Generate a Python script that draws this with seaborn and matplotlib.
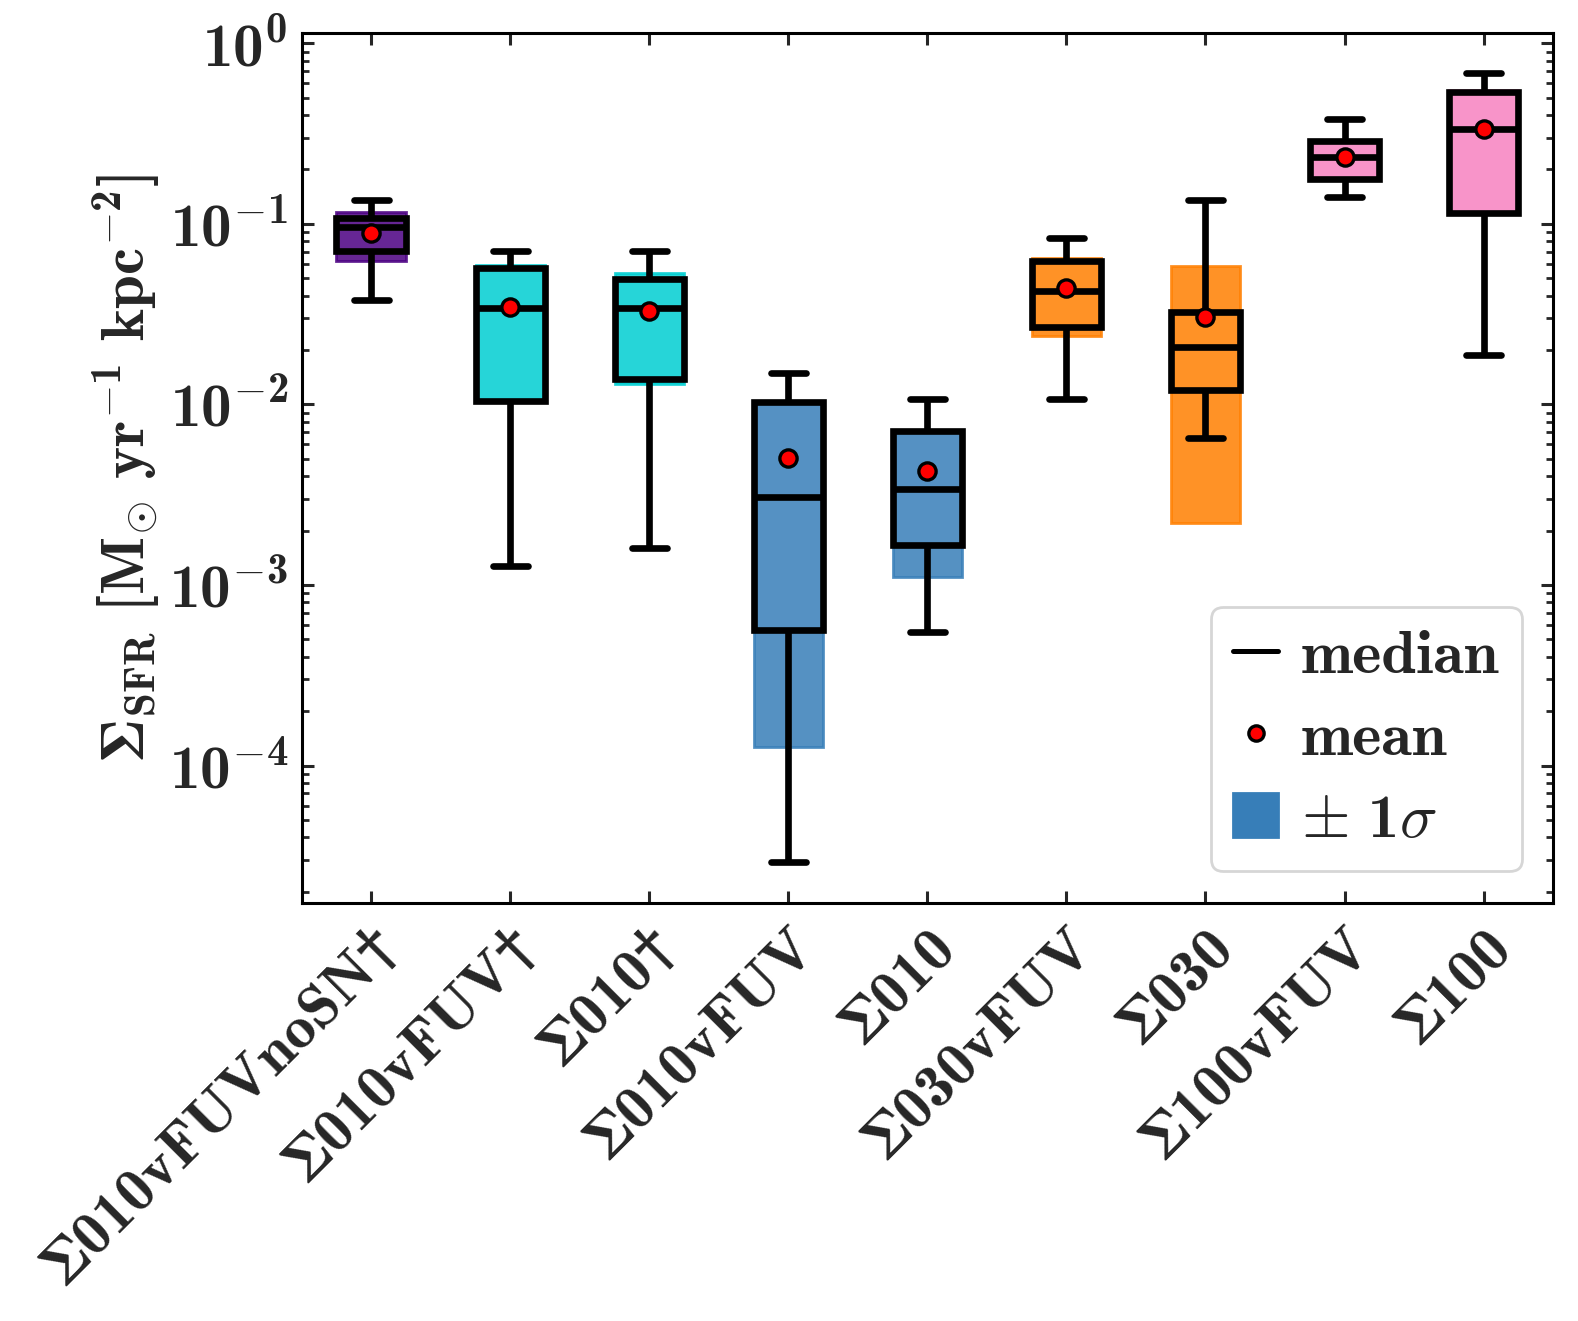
import numpy as np
import pandas as pd
import matplotlib
matplotlib.use("Agg")
import matplotlib.pyplot as plt
import seaborn as sns
from matplotlib.lines import Line2D
from matplotlib.patches import Patch
from matplotlib.ticker import LogLocator, FuncFormatter, NullFormatter

# Run names (x categories) and the box summaries.
# In the bundled cmb10 font the character U+00A7 holds the bold capital Sigma.
S = "\u00a7"
runs = ["S010vFUVnoSN+", "S010vFUV+", "S010+", "S010vFUV", "S010",
        "S030vFUV", "S030", "S100vFUV", "S100"]
run_labels = [S + "010vFUVnoSN\u2020", S + "010vFUV\u2020", S + "010\u2020",
              S + "010vFUV", S + "010", S + "030vFUV", S + "030", S + "100vFUV", S + "100"]
whisk_lo = [0.038, 0.00127, 0.0016, 2.92e-5, 0.000548, 0.01074, 0.0065, 0.1417, 0.01866]
q1 = [0.0703, 0.01038, 0.0138, 0.00056, 0.00167, 0.0270, 0.01205, 0.177, 0.1147]
median = [0.0966, 0.0341, 0.0341, 0.00307, 0.00341, 0.0427, 0.0209, 0.234, 0.336]
q3 = [0.1075, 0.0569, 0.0496, 0.0103, 0.00714, 0.0619, 0.0324, 0.289, 0.536]
whisk_hi = [0.136, 0.0711, 0.0703, 0.0149, 0.0107, 0.084, 0.136, 0.380, 0.688]
mean = [0.0895, 0.0345, 0.0331, 0.00504, 0.00429, 0.0444, 0.0303, 0.236, 0.335]
sig_lo = [0.0626, 0.0106, 0.0130, 0.000126, 0.00111, 0.0238, 0.0022, 0.178, 0.118]
sig_hi = [0.116, 0.059, 0.0537, 0.0102, 0.0071, 0.0646, 0.0581, 0.285, 0.55]

base_colors = ["indigo", "darkturquoise", "darkturquoise", "#377eb8", "#377eb8",
               "#ff7f00", "#ff7f00", "#f781bf", "#f781bf"]
ALPHA = 0.85
FS = 22

sns.set_theme(style="ticks", rc={
    "xtick.direction": "in", "ytick.direction": "in",
    "xtick.top": True, "ytick.right": True,
    "xtick.major.size": 4.2, "ytick.major.size": 4.2,
    "ytick.minor.size": 2.4, "ytick.minor.visible": True,
    "xtick.major.width": 1.1, "ytick.major.width": 1.1, "ytick.minor.width": 1.0,
    "axes.linewidth": 1.1, "axes.edgecolor": "black",
})
plt.rcParams["mathtext.fontset"] = "cm"
plt.rcParams["font.family"] = ["cmb10", "DejaVu Serif"]

# five points per run -> exact quartiles and min/max whiskers
df = pd.DataFrame({
    "run": np.repeat(runs, 5),
    "sfr": np.column_stack([whisk_lo, q1, median, q3, whisk_hi]).ravel(),
})

# box face = base colour at alpha 0.85 over white
faces = [tuple(ALPHA * np.array(matplotlib.colors.to_rgb(c)) + (1 - ALPHA)) for c in base_colors]

fig = plt.figure(figsize=(7.89, 6.605), dpi=200)
ax = fig.add_axes([0.1912, 0.3167, 0.7930, 0.6581])

sns.boxplot(data=df, x="run", y="sfr", hue="run", palette=dict(zip(runs, faces)),
            width=0.5, whis=(0, 100), linewidth=2.4, linecolor="black", fill=True,
            saturation=1, capwidths=0.25, showfliers=False, legend=False,
            log_scale=True, ax=ax)

# +/- 1 sigma bands behind the boxes
pos = np.arange(len(runs))
ax.bar(pos, np.array(sig_hi) - np.array(sig_lo), bottom=sig_lo, width=0.5,
       color=[matplotlib.colors.to_rgba(c, ALPHA) for c in base_colors],
       edgecolor=[matplotlib.colors.to_rgba(c, ALPHA) for c in base_colors],
       linewidth=1.0, zorder=1)

sns.stripplot(x=runs, y=mean, jitter=False, color="red", edgecolor="black",
              linewidth=1.2, size=6.2, zorder=5, ax=ax)


def exp_label(v, _):
    e = round(np.log10(v))
    if e < 0:
        return r"$\mathdefault{10}^{-\mathdefault{%d}}$" % (-e)
    return r"$\mathdefault{10^{%d}}$" % e


ax.set_yscale("log")
ax.set_ylim(1.74e-5, 1.136)
ax.set_xlim(-0.5, 8.5)
ax.yaxis.set_major_locator(LogLocator(base=10, numticks=12))
ax.yaxis.set_minor_locator(LogLocator(base=10, subs=np.arange(2, 10), numticks=12))
ax.yaxis.set_minor_formatter(NullFormatter())
ax.yaxis.set_major_formatter(FuncFormatter(exp_label))
ax.tick_params(axis="y", labelsize=FS, pad=5)
ax.tick_params(axis="x", pad=6)

ax.set_xticks(pos)
ax.set_xticklabels(run_labels, rotation=45, ha="right", rotation_mode="anchor",
                   fontsize=FS, fontweight="bold")
ax.set_xlabel("")
ax.set_ylabel("$\\mathdefault{" + S + "_{SFR}\\ [M}_{\\odot}\\mathdefault{\\ yr}^{-\\mathdefault{1}}"
              "\\mathdefault{\\ kpc}^{-\\mathdefault{2}}\\mathdefault{]}$",
              fontsize=FS, labelpad=2.5)

handles = [
    Line2D([], [], color="black", lw=1.8),
    Line2D([], [], ls="none", marker="o", markersize=5.5, markerfacecolor="red",
           markeredgecolor="black", markeredgewidth=1.2),
    Patch(color="#377eb8"),
]
ax.legend(handles, ["median", "mean", r"$\pm\ \mathdefault{1}\sigma$"],
          loc="lower right", fontsize=22.5, handlelength=0.72, handletextpad=0.36,
          labelspacing=0.42, borderpad=0.36,
          frameon=True, fancybox=True, edgecolor="0.8")

fig.savefig("out.png", dpi=200)
